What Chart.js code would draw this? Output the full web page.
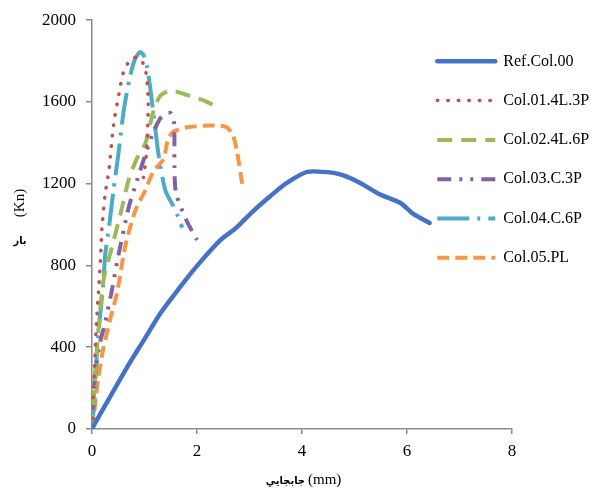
<!DOCTYPE html>
<html>
<head>
<meta charset="utf-8">
<script src="https://cdn.jsdelivr.net/npm/chart.js@4"></script>
<style>
  html, body { margin: 0; padding: 0; background: #fff; }
</style>
</head>
<body>
<canvas id="loadChart" width="601" height="494"></canvas>
<script>
// Load (Kn) against displacement (mm) for each column specimen
const seriesNames = ['Ref.Col.00', 'Col.01.4L.3P', 'Col.02.4L.6P', 'Col.03.C.3P', 'Col.04.C.6P', 'Col.05.PL'];

const refX = [0, 0.06, 0.35, 0.67, 1.0, 1.3, 1.65, 2.0, 2.45, 2.75, 3.07, 3.4, 3.71, 4.1, 4.6, 4.85, 5.11, 5.49, 5.87, 6.12, 6.43];
const refY = [0, 30, 160, 303, 440, 565, 685, 798, 925, 985, 1066, 1140, 1204, 1258, 1253, 1235, 1204, 1147, 1107, 1052, 1008];

const col01X = [0, 0.04, 0.08, 0.13, 0.16, 0.19, 0.25, 0.32, 0.41, 0.51, 0.6, 0.7, 0.8, 0.88, 0.97, 1.03, 1.07, 1.06, 1.03, 0.98];
const col01Y = [0, 250, 500, 693, 823, 985, 1148, 1261, 1488, 1634, 1748, 1795, 1815, 1820, 1790, 1740, 1620, 1470, 1330, 1230];

const col02X = [0, 0.05, 0.12, 0.22, 0.38, 0.54, 0.7, 0.85, 1.02, 1.17, 1.3, 1.5, 1.8, 2.1, 2.35];
const col02Y = [0, 230, 480, 730, 890, 1050, 1220, 1320, 1400, 1555, 1630, 1655, 1635, 1610, 1580];

const col03X = [0, 0.06, 0.15, 0.25, 0.38, 0.48, 0.7, 0.85, 1.0, 1.15, 1.3, 1.42, 1.5, 1.56, 1.57, 1.57, 1.6, 1.8, 2.0];
const col03Y = [0, 270, 420, 520, 680, 820, 1085, 1210, 1330, 1440, 1520, 1545, 1545, 1505, 1400, 1290, 1155, 1020, 925];

const col04X = [0, 0.05, 0.1, 0.18, 0.22, 0.25, 0.33, 0.41, 0.5, 0.6, 0.72, 0.82, 0.92, 1.0, 1.05, 1.11, 1.2, 1.28, 1.4, 1.55, 1.62, 1.72];
const col04Y = [0, 150, 400, 620, 730, 850, 1000, 1170, 1340, 1550, 1720, 1810, 1845, 1820, 1770, 1667, 1480, 1320, 1165, 1090, 1050, 985];

const col05X = [0, 0.05, 0.12, 0.22, 0.35, 0.48, 0.63, 0.82, 1.02, 1.17, 1.36, 1.45, 1.55, 1.65, 1.85, 2.25, 2.55, 2.68, 2.76, 2.86];
const col05Y = [0, 100, 250, 400, 540, 670, 890, 1065, 1170, 1260, 1320, 1420, 1455, 1465, 1478, 1485, 1478, 1440, 1360, 1200];

const xTicks = [0, 2, 4, 6, 8];
const yTicks = [0, 400, 800, 1200, 1600, 2000];

const pts = (xs, ys) => xs.map((x, i) => ({ x: x, y: ys[i] }));

const serif = '"Liberation Serif", "Times New Roman", serif';

// line styles for each specimen
const styles = [
  { color: '#4472c4', width: 4.5, dash: [], cap: 'round' },
  { color: '#c0504d', width: 3.5, dash: [0.5, 10], cap: 'round' },
  { color: '#9bbb59', width: 4, dash: [15, 9], cap: 'butt' },
  { color: '#8064a2', width: 4, dash: [14, 8, 3, 8, 3, 8], cap: 'butt' },
  { color: '#4bacc6', width: 4, dash: [32, 8, 3, 8], cap: 'butt' },
  { color: '#f79646', width: 4, dash: [12, 6], cap: 'butt' }
];

const xs = [refX, col01X, col02X, col03X, col04X, col05X];
const ys = [refY, col01Y, col02Y, col03Y, col04Y, col05Y];

const datasets = seriesNames.map((name, i) => ({
  label: name,
  data: pts(xs[i], ys[i]),
  borderColor: styles[i].color,
  backgroundColor: styles[i].color,
  borderWidth: styles[i].width,
  borderDash: styles[i].dash,
  borderCapStyle: styles[i].cap,
  borderJoinStyle: 'round',
  pointRadius: 0,
  tension: 0.25,
  fill: false
}));

// put the legend block inside the plot, on the right
const legendSpot = {
  id: 'legendSpot',
  afterLayout(chart) {
    const lg = chart.legend;
    lg.left = 414;
    lg.top = 30;
    lg.right = 601;
    lg.bottom = 494;
    lg.width = lg.right - lg.left;
    lg.height = lg.bottom - lg.top;
  }
};

// axis titles: Persian word plus unit
const axisTitles = {
  id: 'axisTitles',
  afterDraw(chart) {
    const ctx = chart.ctx;
    ctx.save();
    ctx.fillStyle = '#000';
    ctx.textBaseline = 'middle';

    ctx.font = 'bold 11px "DejaVu Sans Condensed", "DejaVu Sans"';
    ctx.textAlign = 'right';
    ctx.fillText('جابجايي', 305, 481);
    ctx.font = '15px ' + serif;
    ctx.textAlign = 'left';
    ctx.fillText('(mm)', 308, 480);

    ctx.font = 'bold 11px "DejaVu Sans Condensed", "DejaVu Sans"';
    ctx.textAlign = 'center';
    ctx.fillText('بار', 20, 241);

    ctx.translate(20, 203);
    ctx.rotate(-Math.PI / 2);
    ctx.font = '15px ' + serif;
    ctx.fillText('(Kn)', 0, 0);
    ctx.restore();
  }
};

const axisColor = '#8a8a8a';

// legend samples take the dash pattern of their dataset
const legendLabels = (chart) =>
  Chart.defaults.plugins.legend.labels.generateLabels(chart).map((item) => {
    const ds = chart.data.datasets[item.datasetIndex];
    item.lineDash = ds.borderDash;
    item.lineCap = ds.borderCapStyle;
    item.lineWidth = ds.borderWidth;
    item.strokeStyle = ds.borderColor;
    return item;
  });

new Chart(document.getElementById('loadChart').getContext('2d'), {
  type: 'line',
  data: { datasets: datasets },
  options: {
    responsive: false,
    animation: false,
    layout: { padding: { left: 0, right: 89, top: 18, bottom: 0 } },
    plugins: {
      legend: {
        position: 'chartArea',
        align: 'start',
        labels: {
          usePointStyle: true,
          pointStyle: 'line',
          pointStyleWidth: 58,
          boxHeight: 16,
          padding: 23.3,
          color: '#000',
          font: { family: serif, size: 16 },
          generateLabels: legendLabels
        }
      },
      tooltip: { enabled: false }
    },
    scales: {
      x: {
        type: 'linear',
        min: 0,
        max: 8,
        afterBuildTicks: (s) => { s.ticks = xTicks.map(v => ({ value: v })); },
        afterFit: (s) => { s.height = 65; },
        ticks: { color: '#000', padding: 7, font: { family: serif, size: 17 }, callback: (v) => String(v) },
        grid: { drawOnChartArea: false, tickLength: 5, color: axisColor, lineWidth: 1.5 },
        border: { color: axisColor, width: 1.5 }
      },
      y: {
        type: 'linear',
        min: 0,
        max: 2000,
        afterBuildTicks: (s) => { s.ticks = yTicks.map(v => ({ value: v })); },
        afterFit: (s) => { s.width = 92; },
        ticks: { color: '#000', padding: 10, font: { family: serif, size: 17 }, callback: (v) => String(v) },
        grid: { drawOnChartArea: false, tickLength: 6, color: axisColor, lineWidth: 1.5 },
        border: { color: axisColor, width: 1.5 }
      }
    }
  },
  plugins: [legendSpot, axisTitles]
});
</script>
</body>
</html>
